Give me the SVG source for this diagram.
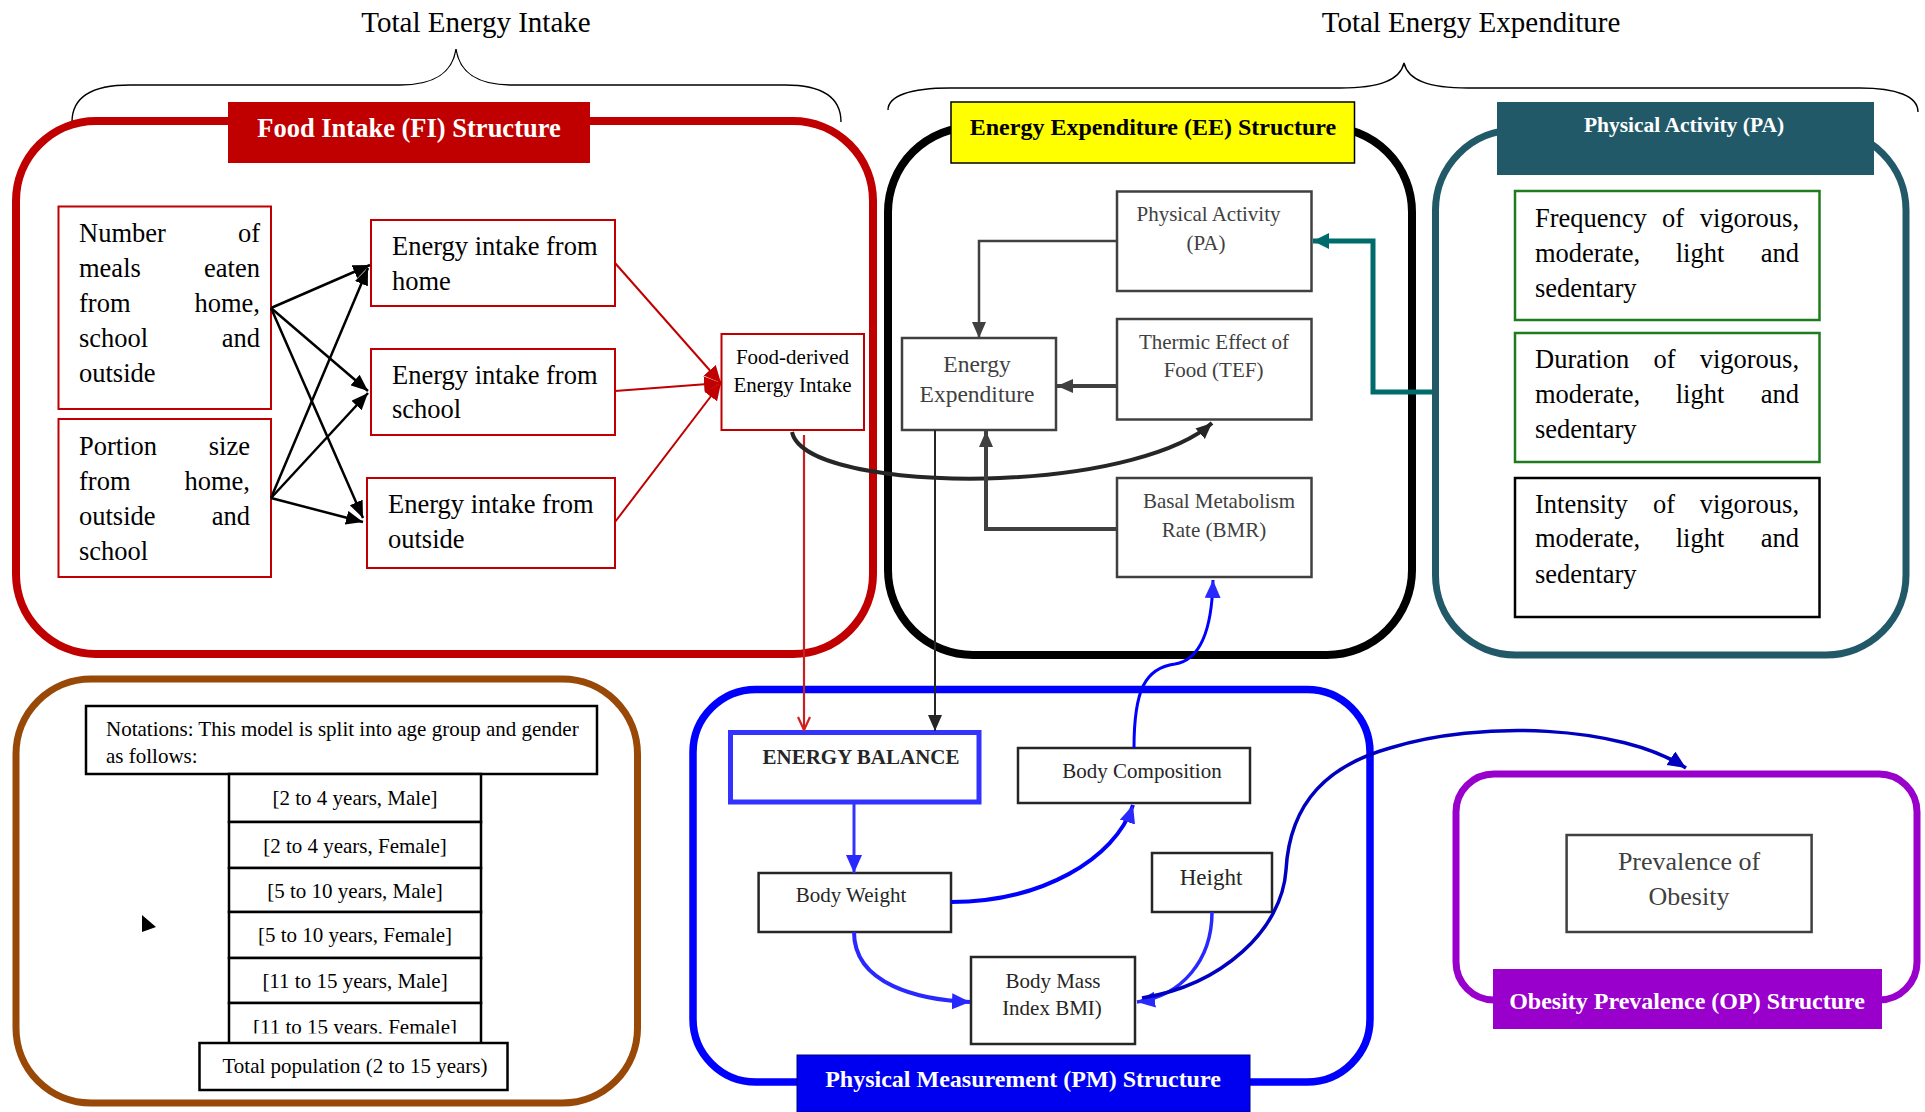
<svg xmlns="http://www.w3.org/2000/svg" width="1925" height="1112" viewBox="0 0 1925 1112">
<defs>
<style>
text { font-family: 'Liberation Serif','Times New Roman',serif; }
.t26 { font-size:26.5px; fill:#000; }
.t21 { font-size:21px; }
.hd { font-weight:bold; }
.g { fill:#404040; }
.d { fill:#262626; }
.w { fill:#fff; }
.m { text-anchor:middle; }
.e { text-anchor:end; }
.cont { fill:none; }
.redbox { fill:#fff; stroke:#C00000; stroke-width:2; }
.graybox { fill:#fff; stroke:#404040; stroke-width:2.5; }
.greenbox { fill:#fff; stroke:#1E7B1E; stroke-width:2.5; }
.blkbox { fill:#fff; stroke:#262626; stroke-width:2.5; }
.brace { fill:none; stroke:#000; stroke-width:1.4; }
</style>
<marker id="aBlk" markerUnits="userSpaceOnUse" markerWidth="18" markerHeight="14" refX="17" refY="7" orient="auto"><path d="M0,0 L17,7 L0,14 z" fill="#000"/></marker>
<marker id="aRed" markerUnits="userSpaceOnUse" markerWidth="18" markerHeight="16" refX="17" refY="8" orient="auto"><path d="M0,0 L17,8 L0,16 z" fill="#C00000"/></marker>
<marker id="aRedOpen" markerUnits="userSpaceOnUse" markerWidth="16" markerHeight="16" refX="14" refY="7" orient="auto"><path d="M1,1 L14,7 L1,13" fill="none" stroke="#D02020" stroke-width="2.2"/></marker>
<marker id="aGray" markerUnits="userSpaceOnUse" markerWidth="18" markerHeight="16" refX="16" refY="7" orient="auto"><path d="M0,0 L16,7 L0,14 z" fill="#404040"/></marker>
<marker id="aTeal" markerUnits="userSpaceOnUse" markerWidth="18" markerHeight="16" refX="16" refY="8" orient="auto"><path d="M0,0 L16,8 L0,16 z" fill="#006B6B"/></marker>
<marker id="aBlue" markerUnits="userSpaceOnUse" markerWidth="20" markerHeight="18" refX="18" refY="8" orient="auto"><path d="M0,0 L18,8 L0,16 z" fill="#2828FF"/></marker>
<marker id="aDBlue" markerUnits="userSpaceOnUse" markerWidth="20" markerHeight="18" refX="18" refY="8" orient="auto"><path d="M0,0 L18,8 L0,16 z" fill="#0000C0"/></marker>
<marker id="aK" markerUnits="userSpaceOnUse" markerWidth="18" markerHeight="16" refX="16" refY="7" orient="auto"><path d="M0,0 L16,7 L0,14 z" fill="#262626"/></marker>
<clipPath id="clipLast"><rect x="229" y="1003" width="252" height="30.5"/></clipPath>
</defs>
<rect width="1925" height="1112" fill="#fff"/>

<g id="labels">
<path class="brace" d="M72 122 C72 96 94 85 130 85 L400 85 C432 85 452 75 456 49 C460 75 480 85 512 85 L785 85 C820 85 841 96 841 122"/>
<text x="476" y="32" class="m" style="font-size:29px">Total Energy Intake</text>
<path class="brace" d="M888 110 C888 96 910 88 950 88 L1340 88 C1380 88 1400 80 1404 63 C1408 80 1428 88 1468 88 L1860 88 C1896 88 1918 96 1918 112"/>
<text x="1471" y="32" class="m" style="font-size:29px">Total Energy Expenditure</text>
</g>

<g id="fi-structure">
<rect class="cont" x="16" y="121" width="857" height="533" rx="80" stroke="#C00000" stroke-width="8"/>
<rect x="228" y="102" width="362" height="61" fill="#C00000"/>
<text x="409" y="137" class="m hd w" style="font-size:26.5px">Food Intake (FI) Structure</text>
</g>

<g id="ee-structure">
<rect class="cont" x="888" y="127" width="524" height="528" rx="85" stroke="#000" stroke-width="8"/>
<rect x="951" y="102" width="403.5" height="61" fill="#FFFF00" stroke="#000" stroke-width="1.5"/>
<text x="1153" y="135" class="m hd" style="font-size:24px">Energy Expenditure (EE) Structure</text>
</g>

<g id="pa-structure">
<rect class="cont" x="1435.5" y="130" width="470.5" height="525" rx="80" stroke="#215968" stroke-width="7"/>
<rect x="1497" y="102" width="377" height="73" fill="#215968"/>
<text x="1684" y="132" class="m hd w" style="font-size:21.5px">Physical Activity (PA)</text>
</g>

<g id="notation-structure">
<rect class="cont" x="16" y="679" width="621.5" height="424" rx="75" stroke="#984807" stroke-width="7"/>
</g>

<g id="pm-structure">
<rect class="cont" x="693" y="689.5" width="677" height="392.5" rx="63" stroke="#0000FF" stroke-width="7.5"/>
<rect x="797" y="1055" width="453" height="57" fill="#0000F0" stroke="#00008A" stroke-width="1"/>
<text x="1023" y="1087" class="m hd w" style="font-size:24px">Physical Measurement (PM) Structure</text>
</g>

<g id="op-structure">
<rect class="cont" x="1456" y="774" width="461" height="226" rx="38" stroke="#9900CC" stroke-width="7"/>
<rect x="1493" y="969" width="389" height="60" fill="#9900CC"/>
<text x="1687" y="1009" class="m hd w" style="font-size:24px">Obesity Prevalence (OP) Structure</text>
</g>

<g id="node-meals">
<rect class="redbox" x="58.5" y="206.5" width="212.5" height="202.5"/>
<text class="t26" x="79" y="242">Number</text><text class="t26 e" x="260" y="242">of</text>
<text class="t26" x="79" y="277">meals</text><text class="t26 e" x="260" y="277">eaten</text>
<text class="t26" x="79" y="312">from</text><text class="t26 e" x="260" y="312">home,</text>
<text class="t26" x="79" y="347">school</text><text class="t26 e" x="260" y="347">and</text>
<text class="t26" x="79" y="382">outside</text>
</g>
<g id="node-portion">
<rect class="redbox" x="58.5" y="419" width="212.5" height="158"/>
<text class="t26" x="79" y="455">Portion</text><text class="t26 e" x="250" y="455">size</text>
<text class="t26" x="79" y="490">from</text><text class="t26 e" x="250" y="490">home,</text>
<text class="t26" x="79" y="525">outside</text><text class="t26 e" x="250" y="525">and</text>
<text class="t26" x="79" y="560">school</text>
</g>
<g id="node-ei-home">
<rect class="redbox" x="371" y="220" width="244" height="86"/>
<text class="t26" x="392" y="255">Energy intake from</text>
<text class="t26" x="392" y="290">home</text>
</g>
<g id="node-ei-school">
<rect class="redbox" x="371" y="349" width="244" height="86"/>
<text class="t26" x="392" y="384">Energy intake from</text>
<text class="t26" x="392" y="418">school</text>
</g>
<g id="node-ei-outside">
<rect class="redbox" x="367" y="478" width="248" height="90"/>
<text class="t26" x="388" y="513">Energy intake from</text>
<text class="t26" x="388" y="548">outside</text>
</g>
<g id="node-food-derived">
<rect class="redbox" x="721.5" y="334" width="142.5" height="96"/>
<text class="t21 m" x="792.5" y="364">Food-derived</text>
<text class="t21 m" x="792.5" y="392">Energy Intake</text>
</g>

<g id="node-energy-expenditure">
<rect class="graybox" x="902" y="338" width="154" height="92"/>
<text class="g m" style="font-size:23.5px" x="977" y="372">Energy</text>
<text class="g m" style="font-size:23.5px" x="977" y="402">Expenditure</text>
</g>
<g id="node-pa">
<rect class="graybox" x="1117" y="191.5" width="194.5" height="99.5"/>
<text class="t21 g m" x="1208.5" y="221">Physical Activity</text>
<text class="t21 g m" x="1206" y="250">(PA)</text>
</g>
<g id="node-tef">
<rect class="graybox" x="1117" y="319" width="194.5" height="100.5"/>
<text class="t21 g m" x="1214" y="349">Thermic Effect of</text>
<text class="t21 g m" x="1213.5" y="377">Food (TEF)</text>
</g>
<g id="node-bmr">
<rect class="graybox" x="1117" y="478" width="194.5" height="99"/>
<text class="t21 g m" x="1219" y="508">Basal Metabolism</text>
<text class="t21 g m" x="1214" y="537">Rate (BMR)</text>
</g>

<g id="node-frequency">
<rect class="greenbox" x="1515" y="191" width="304.5" height="129"/>
<text class="t26" x="1535" y="227">Frequency</text><text class="t26 m" x="1673" y="227">of</text><text class="t26 e" x="1799" y="227">vigorous,</text>
<text class="t26" x="1535" y="262">moderate,</text><text class="t26 m" x="1700" y="262">light</text><text class="t26 e" x="1799" y="262">and</text>
<text class="t26" x="1535" y="297">sedentary</text>
</g>
<g id="node-duration">
<rect class="greenbox" x="1515" y="333" width="304.5" height="129"/>
<text class="t26" x="1535" y="368">Duration</text><text class="t26 m" x="1664.5" y="368">of</text><text class="t26 e" x="1799" y="368">vigorous,</text>
<text class="t26" x="1535" y="403">moderate,</text><text class="t26 m" x="1700" y="403">light</text><text class="t26 e" x="1799" y="403">and</text>
<text class="t26" x="1535" y="438">sedentary</text>
</g>
<g id="node-intensity">
<rect x="1515" y="478" width="304.5" height="139" fill="#fff" stroke="#000" stroke-width="2.5"/>
<text class="t26" x="1535" y="513">Intensity</text><text class="t26 m" x="1664" y="513">of</text><text class="t26 e" x="1799" y="513">vigorous,</text>
<text class="t26" x="1535" y="547">moderate,</text><text class="t26 m" x="1700" y="547">light</text><text class="t26 e" x="1799" y="547">and</text>
<text class="t26" x="1535" y="583">sedentary</text>
</g>

<g id="node-notations">
<rect x="86" y="706" width="511" height="68" fill="#fff" stroke="#000" stroke-width="2.5"/>
<text class="t21" x="106" y="736">Notations: This model is split into age group and gender</text>
<text class="t21" x="106" y="763">as follows:</text>
</g>
<g id="node-age-groups">
<rect x="229" y="774" width="252" height="48" fill="#fff" stroke="#000" stroke-width="2.5"/>
<text class="t21 m" x="355" y="805">[2 to 4 years, Male]</text>
<rect x="229" y="822" width="252" height="46" fill="#fff" stroke="#000" stroke-width="2.5"/>
<text class="t21 m" x="355" y="853">[2 to 4 years, Female]</text>
<rect x="229" y="868" width="252" height="44" fill="#fff" stroke="#000" stroke-width="2.5"/>
<text class="t21 m" x="355" y="898">[5 to 10 years, Male]</text>
<rect x="229" y="912" width="252" height="46" fill="#fff" stroke="#000" stroke-width="2.5"/>
<text class="t21 m" x="355" y="942">[5 to 10 years, Female]</text>
<rect x="229" y="958" width="252" height="45" fill="#fff" stroke="#000" stroke-width="2.5"/>
<text class="t21 m" x="355" y="988">[11 to 15 years, Male]</text>
<rect x="229" y="1003" width="252" height="42" fill="#fff" stroke="#000" stroke-width="2.5"/>
<text class="t21 m" x="355" y="1034" clip-path="url(#clipLast)">[11 to 15 years, Female]</text>
</g>
<g id="node-total-population">
<rect x="199.5" y="1043" width="308" height="47" fill="#fff" stroke="#000" stroke-width="2.5"/>
<text class="t21 m" x="355" y="1073">Total population (2 to 15 years)</text>
</g>
<g id="marker-triangle">
<path d="M142 915 L156 927 L142 932 z" fill="#000"/>
</g>

<g id="node-energy-balance">
<rect x="730.5" y="732.5" width="248.5" height="69.5" fill="#fff" stroke="#3333FF" stroke-width="5"/>
<text class="t21 hd d" x="762.5" y="764">ENERGY BALANCE</text>
</g>
<g id="node-body-composition">
<rect class="blkbox" x="1018" y="748" width="232" height="55"/>
<text class="t21 d m" x="1142" y="778">Body Composition</text>
</g>
<g id="node-body-weight">
<rect class="blkbox" x="758.6" y="873" width="192.4" height="59"/>
<text class="t21 d m" x="851" y="902">Body Weight</text>
</g>
<g id="node-height">
<rect class="blkbox" x="1152" y="853" width="120" height="59"/>
<text class="d m" style="font-size:23px" x="1211" y="885">Height</text>
</g>
<g id="node-bmi">
<rect class="blkbox" x="971" y="957" width="164" height="87"/>
<text class="t21 d m" x="1053" y="988">Body Mass</text>
<text class="t21 d m" x="1052" y="1015">Index BMI)</text>
</g>
<g id="node-prevalence">
<rect class="graybox" x="1566.6" y="835" width="245" height="97"/>
<text class="g m" style="font-size:26px" x="1689" y="870">Prevalence of</text>
<text class="g m" style="font-size:26px" x="1689" y="905">Obesity</text>
</g>

<g id="connectors" fill="none">
<g stroke="#000" stroke-width="2.5">
<path d="M271 308 L370 265" marker-end="url(#aBlk)"/>
<path d="M271 308 L368 391" marker-end="url(#aBlk)"/>
<path d="M271 308 L363 518" marker-end="url(#aBlk)"/>
<path d="M271 498 L368 268" marker-end="url(#aBlk)"/>
<path d="M271 498 L368 393" marker-end="url(#aBlk)"/>
<path d="M271 498 L363 522" marker-end="url(#aBlk)"/>
</g>
<g stroke="#C00000" stroke-width="2">
<path d="M615 263 L721 383" marker-end="url(#aRed)"/>
<path d="M615 391 L721 383" marker-end="url(#aRed)"/>
<path d="M615 522 L721 383" marker-end="url(#aRed)"/>
</g>
<path d="M804 435 L804 730" stroke="#C82020" stroke-width="2.2" marker-end="url(#aRedOpen)"/>
<path d="M792 432 C800 470 920 482 1000 478 C1100 474 1180 452 1212 423" stroke="#262626" stroke-width="4" marker-end="url(#aK)"/>
<path d="M935 430 L935 731" stroke="#262626" stroke-width="2" marker-end="url(#aK)"/>
<path d="M1117 241 L979 241 L979 338" stroke="#404040" stroke-width="2.5" marker-end="url(#aGray)"/>
<path d="M1117 386 L1057 386" stroke="#404040" stroke-width="4" marker-end="url(#aGray)"/>
<path d="M1117 529 L986 529 L986 431" stroke="#404040" stroke-width="4" marker-end="url(#aGray)"/>
<path d="M1432 392 L1373 392 L1373 241 L1313 241" stroke="#006B6B" stroke-width="5" marker-end="url(#aTeal)"/>
<path d="M854 804 L854 873" stroke="#3333FF" stroke-width="3" marker-end="url(#aBlue)"/>
<path d="M951 902 C1040 902 1115 860 1133 805" stroke="#0000FF" stroke-width="4" marker-end="url(#aBlue)"/>
<path d="M854 932 C854 985 920 1000 970 1002" stroke="#2828FF" stroke-width="4" marker-end="url(#aBlue)"/>
<path d="M1212 912 C1212 960 1182 996 1137 1002" stroke="#2828FF" stroke-width="3.5" marker-end="url(#aBlue)"/>
<path d="M1142 998 C1222 985 1282 930 1286 870 C1290 800 1330 765 1390 748 C1480 720 1620 725 1686 768" stroke="#0000C0" stroke-width="3.5" marker-end="url(#aDBlue)"/>
<path d="M1134 748 C1134 690 1145 668 1175 664 C1200 660 1212 630 1213 580" stroke="#0000FF" stroke-width="3" marker-end="url(#aBlue)"/>
</g>
</svg>
